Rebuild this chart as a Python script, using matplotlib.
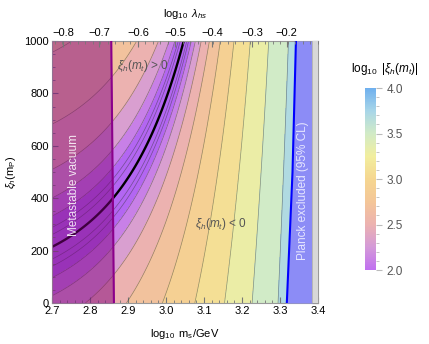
import numpy as np
import matplotlib
matplotlib.use('Agg')
import matplotlib.pyplot as plt
from matplotlib.colors import LinearSegmentedColormap, Normalize
from matplotlib.ticker import MultipleLocator, FixedLocator

plt.rcParams['font.family'] = ['Liberation Sans', 'DejaVu Sans']
plt.rcParams['mathtext.fontset'] = 'custom'
plt.rcParams['mathtext.rm'] = 'Liberation Sans'
plt.rcParams['mathtext.it'] = 'Liberation Sans:italic'

# log10 of the running offset g(m_s) (xi_h(m_t) = c*xi_h(m_P) - g)
ms_tab = [2.70, 2.75, 2.80, 2.85, 2.90, 2.95, 3.00, 3.05, 3.10, 3.15, 3.20, 3.25, 3.30, 3.35, 3.40]
logg_tab = [2.26, 2.34, 2.42, 2.51, 2.61, 2.71, 2.82, 2.94, 3.06, 3.19, 3.32, 3.47, 3.62, 3.77, 3.93]
slope_c = 0.85

# boundaries
meta_xi = [0, 1000]
meta_ms = [2.863, 2.856]
planck_xi = [0, 500, 1000]
planck_ms = [3.318, 3.333, 3.342]
gray_ms = 3.385

# top axis log10 lambda_hs
top_lam = [-0.8, -0.7, -0.6, -0.5, -0.4, -0.3, -0.2]
top_ms = [2.729, 2.824, 2.926, 3.024, 3.121, 3.226, 3.318]

cb_colors = ['#c070f0', '#d49ad8', '#ecb2b0', '#f4c698', '#f5d690',
             '#f2ee9e', '#d2ebc6', '#a8d6e8', '#6fb0ee']
cmap = LinearSegmentedColormap.from_list('pal', cb_colors)
cmap.set_under('#b366f2')
cmap.set_over('#6fb0ee')
norm = Normalize(2.0, 4.0)

fig = plt.figure(figsize=(4.29, 3.44), dpi=100)
ax = fig.add_axes([0.1212, 0.1192, 0.620, 0.7616])

ms = np.linspace(2.7, 3.4, 500)
xiP = np.linspace(0, 1000, 400)
p = np.polyfit(ms_tab, logg_tab, 2)
g = 10 ** np.polyval(p, ms)
M, X = np.meshgrid(ms, xiP)
xi_t = slope_c * X - g[None, :]
Z = np.log10(np.abs(xi_t) + 1e-9)

levels = np.round(np.arange(1.6, 4.01, 0.2), 2)
ax.contourf(M, X, Z, levels=levels, cmap=cmap, norm=norm, extend='both')
ax.contour(M, X, Z, levels=levels, colors='#333333', linewidths=0.5, alpha=0.5)
ax.contour(M, X, xi_t, levels=[0], colors='black', linewidths=1.7)

# metastable region
ax.fill_betweenx(meta_xi, 2.7, meta_ms, color='#800080', alpha=0.5, lw=0, zorder=3)
ax.plot(meta_ms, meta_xi, color='#8b008b', lw=1.5, zorder=4)

# planck excluded
ax.fill_betweenx(planck_xi, planck_ms, gray_ms, color='#8c8cf6', lw=0, zorder=3)
ax.plot(planck_ms, planck_xi, color='#0000ff', lw=1.5, zorder=4)
ax.fill_betweenx([0, 1000], gray_ms, 3.4, color='#d8d8d8', lw=0, zorder=3)
ax.plot([gray_ms, gray_ms], [0, 1000], color='#b0b0b0', lw=0.6, zorder=4)

ax.text(2.758, 450, 'Metastable vacuum', rotation=90, color='white', alpha=0.85,
        fontsize=8.5, ha='center', va='center', zorder=5)
ax.text(3.361, 430, 'Planck excluded (95% CL)', rotation=90, color='#e6e6ff',
        fontsize=8.5, ha='center', va='center', zorder=5)
ax.text(2.871, 905, r'$\xi_h(m_t)$ > 0', color='#555555', fontsize=8.5,
        ha='left', va='center', zorder=5)
ax.text(3.076, 300, r'$\xi_h(m_t)$ < 0', color='#555555', fontsize=8.5,
        ha='left', va='center', zorder=5)

ax.set_xlim(2.7, 3.4)
ax.set_ylim(0, 1000)
ax.set_xticks(np.round(np.arange(2.7, 3.41, 0.1), 1))
ax.set_xticklabels(['%.1f' % v for v in np.arange(2.7, 3.41, 0.1)])
ax.xaxis.set_minor_locator(MultipleLocator(0.02))
ax.set_yticks([0, 200, 400, 600, 800, 1000])
ax.yaxis.set_minor_locator(MultipleLocator(50))
ax.tick_params(which='both', direction='in', color='#777777', labelsize=8, pad=2,
               top=False, right=True)
ax.tick_params(which='major', length=4)
ax.tick_params(which='minor', length=2)
for s in ax.spines.values():
    s.set_color('#999999')
    s.set_linewidth(0.8)
ax.set_xlabel(r'$\log_{10}\ \mathrm{m_s/GeV}$', fontsize=8, labelpad=8)
ax.set_ylabel(r'$\xi_h(\mathrm{m_P})$', fontsize=8, labelpad=5)

ax2 = ax.twiny()
ax2.set_xlim(2.7, 3.4)
ax2.set_xticks(top_ms)
ax2.set_xticklabels(['\u2212%.1f' % abs(v) for v in top_lam])
pf = np.polyfit(top_lam, top_ms, 1)
minor_lam = np.arange(-0.82, -0.1, 0.02)
ax2.xaxis.set_minor_locator(FixedLocator(np.polyval(pf, minor_lam)))
ax2.tick_params(which='both', direction='in', color='#777777', labelsize=8, pad=2)
ax2.tick_params(which='major', length=4)
ax2.tick_params(which='minor', length=2)
ax2.set_xlabel(r'$\log_{10}\ \lambda_{hs}$', fontsize=8, labelpad=8)
for s in ax2.spines.values():
    s.set_visible(False)

cax = fig.add_axes([0.851, 0.215, 0.0256, 0.529])
sm = plt.cm.ScalarMappable(norm=norm, cmap=cmap)
cb = fig.colorbar(sm, cax=cax)
cb.outline.set_visible(False)
cb.set_ticks([2.0, 2.5, 3.0, 3.5, 4.0])
cb.set_ticklabels(['2.0', '2.5', '3.0', '3.5', '4.0'])
cax.yaxis.set_minor_locator(MultipleLocator(0.1))
cax.tick_params(which='both', color='#bbbbbb', labelcolor='#555555', labelsize=8.5)
cax.tick_params(which='major', length=4)
cax.tick_params(which='minor', length=2)
fig.text(0.897, 0.80, r'$\log_{10}\ |\xi_h(m_t)|$', fontsize=8.5, ha='center', va='center')

fig.savefig('out.png', dpi=100)
